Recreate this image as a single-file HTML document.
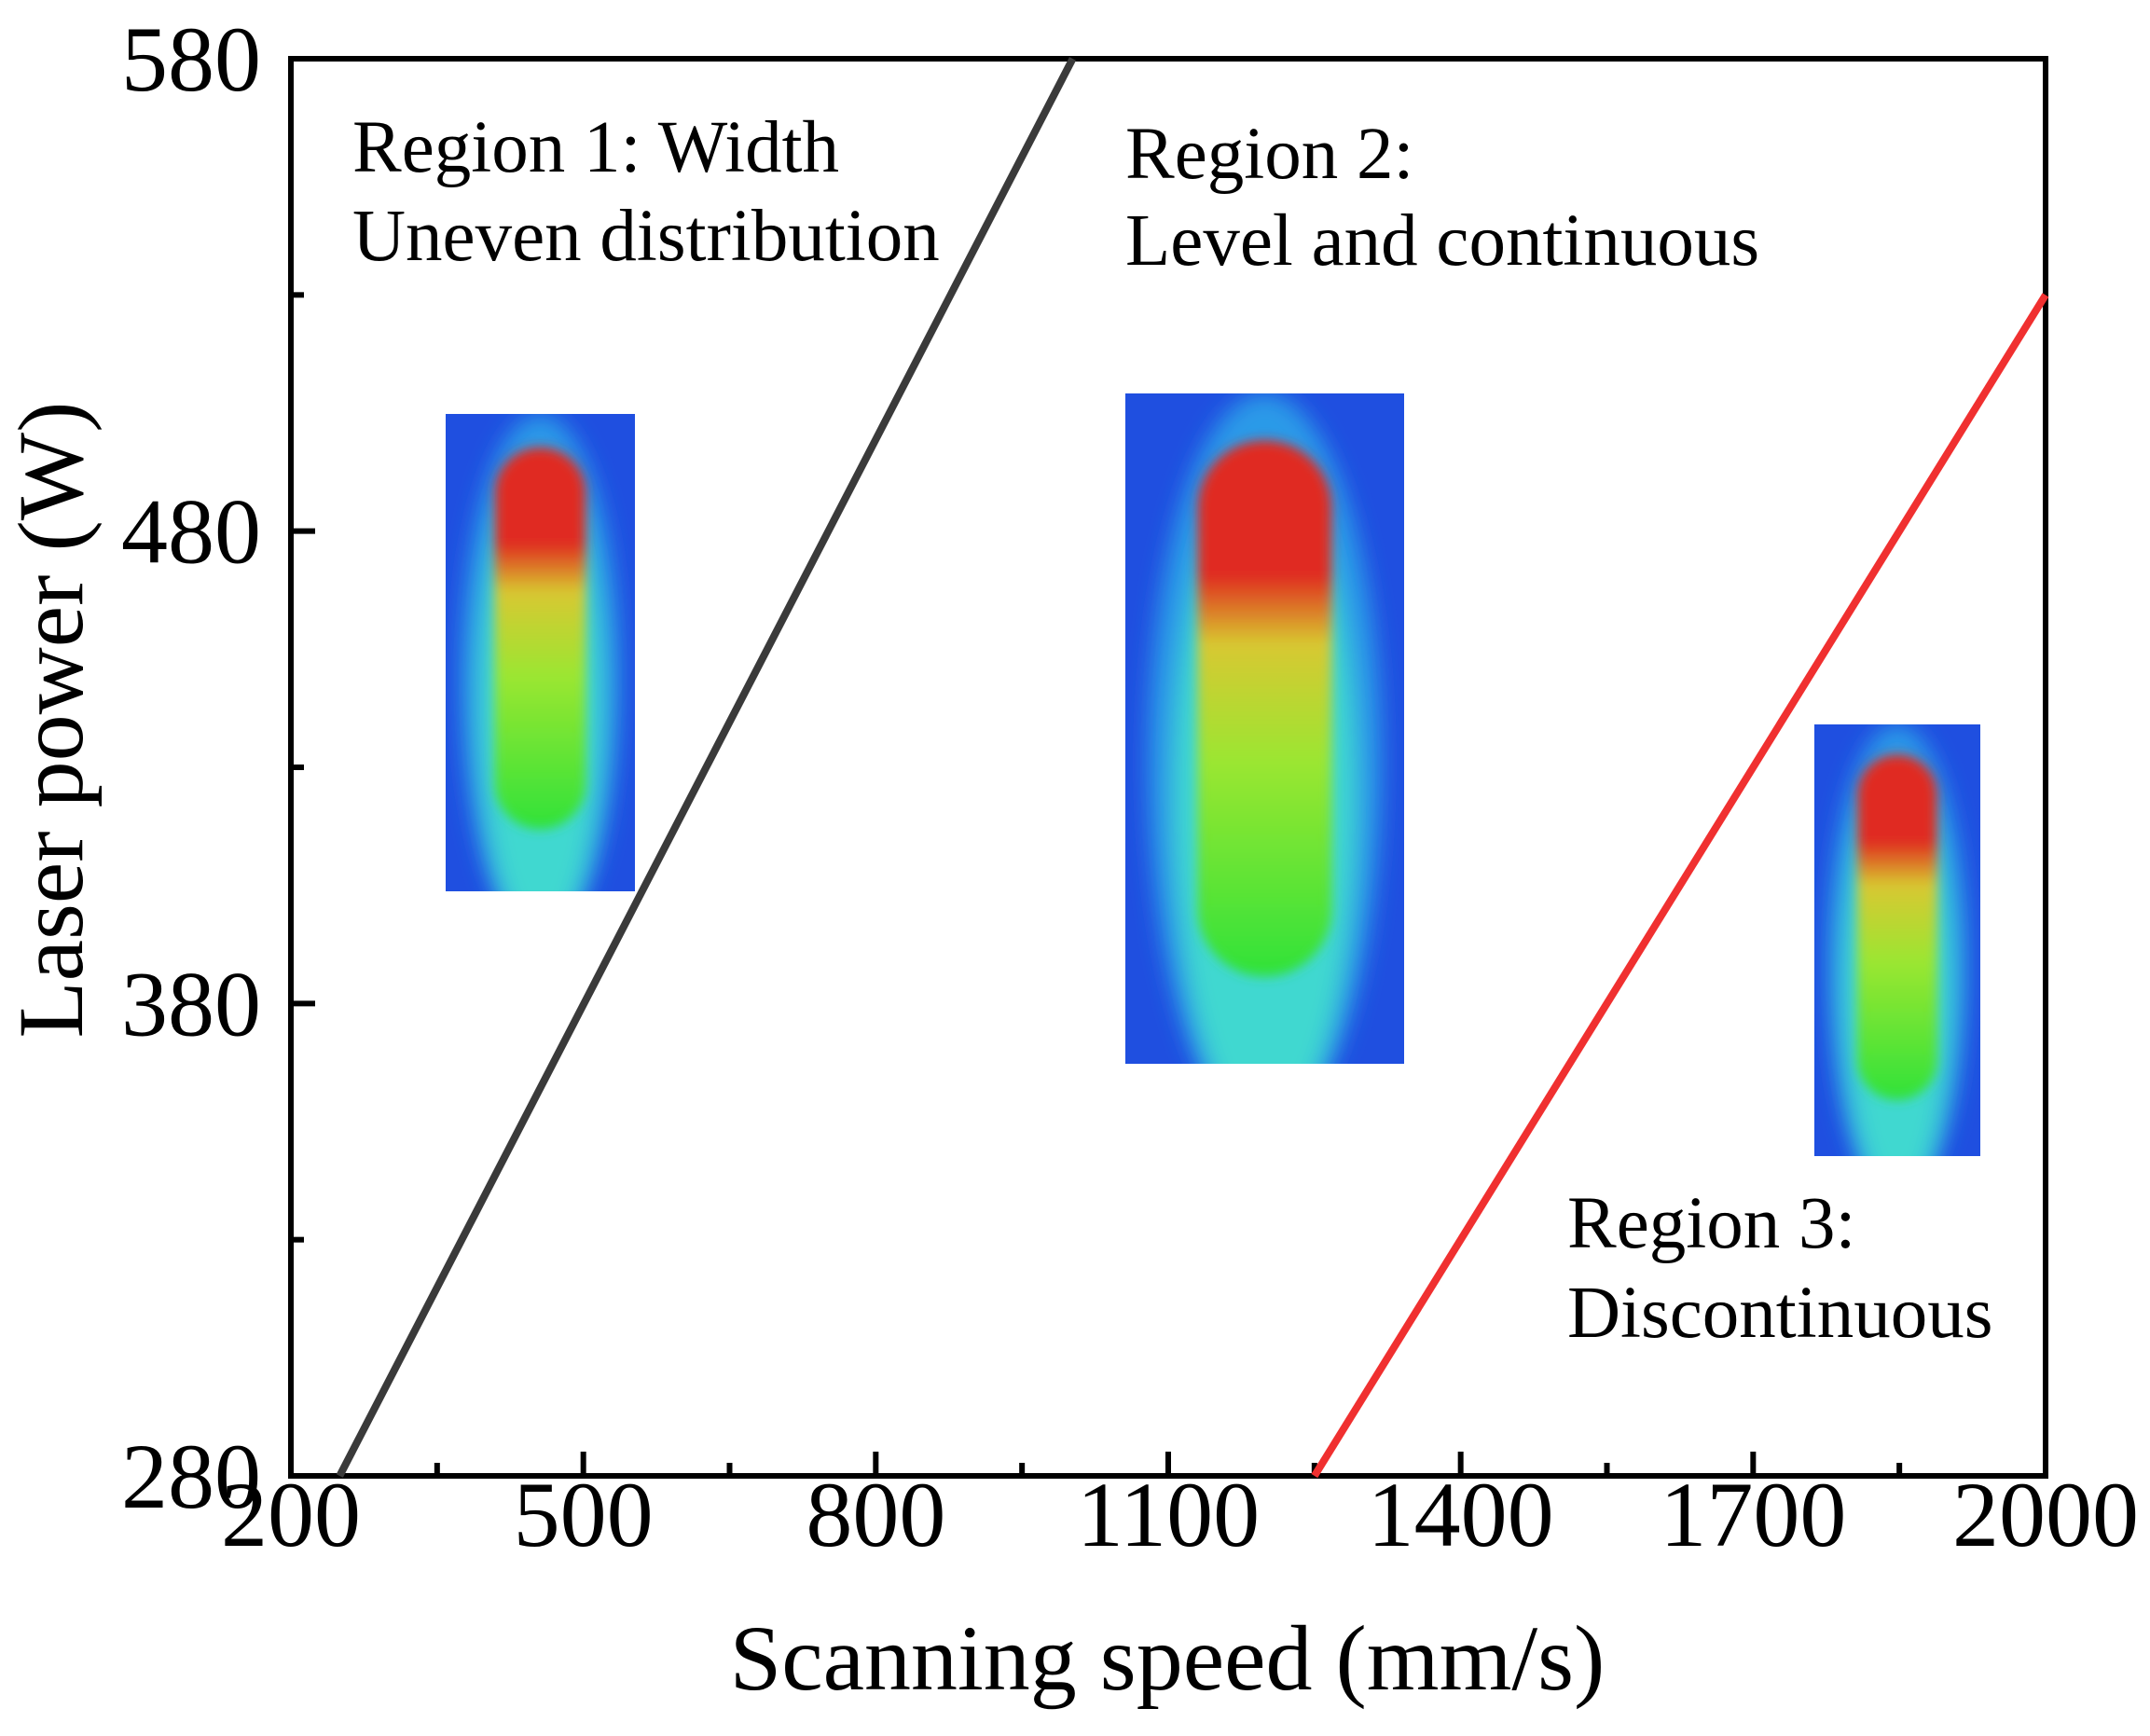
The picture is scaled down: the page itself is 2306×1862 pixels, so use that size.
<!DOCTYPE html>
<html><head><meta charset="utf-8"><style>
html,body{margin:0;padding:0;background:#fff;}
svg text{font-family:"Liberation Serif",serif;fill:#000;}
</style></head><body>
<svg id="chart" width="2306" height="1857" viewBox="0 0 2306 1857" xmlns="http://www.w3.org/2000/svg">
<defs>
<filter id="blur" x="-20%" y="-20%" width="140%" height="140%"><feGaussianBlur stdDeviation="12"/></filter>
<filter id="blur2" x="-20%" y="-20%" width="140%" height="140%"><feGaussianBlur stdDeviation="6"/></filter>
<linearGradient id="core" x1="0" y1="0" x2="0" y2="1">
<stop offset="0" stop-color="#e02a20"/><stop offset="0.25" stop-color="#e02a20"/>
<stop offset="0.38" stop-color="#d8c830"/><stop offset="0.6" stop-color="#9be630"/>
<stop offset="1" stop-color="#2fe23a"/></linearGradient>
<clipPath id="c1"><rect x="478" y="444" width="203" height="512"/></clipPath>
<clipPath id="c2"><rect x="1207" y="422" width="299" height="719"/></clipPath>
<clipPath id="c3"><rect x="1946" y="777" width="178" height="463"/></clipPath>
</defs>
<g id="images"></g>
<g id="axes"></g>
<g id="lines"></g>
<g id="labels">
<text x="378" y="184" font-size="79">Region 1: Width</text>
<text x="378" y="279" font-size="79">Uneven distribution</text>
<text x="1207" y="191" font-size="79">Region 2:</text>
<text x="1207" y="284" font-size="79">Level and continuous</text>
<text x="1681" y="1338" font-size="79">Region 3:</text>
<text x="1681" y="1434" font-size="79">Discontinuous</text>
<text x="1252" y="1812" font-size="100" text-anchor="middle">Scanning speed (mm/s)</text>
<text x="0" y="0" font-size="100" text-anchor="middle" transform="translate(88,772) rotate(-90)">Laser power (W)</text>
</g>
</svg>
<script>
const xTicks = [200, 500, 800, 1100, 1400, 1700, 2000];
const xMinor = [350, 650, 950, 1250, 1550, 1850];
const yTicks = [280, 380, 480, 580];
const yMinor = [330, 430, 530];
const boundaryLow = {speed: [250, 1002], power: [280, 580]};
const boundaryHigh = {speed: [1250, 2000], power: [280, 530]};

const L = 312, R = 2194, T = 63, B = 1583;
const sx = v => L + (v - 200) / 1800 * (R - L);
const sy = v => B - (v - 280) / 300 * (B - T);
const NS = 'http://www.w3.org/2000/svg';
function mk(tag, attrs, parent) { const e = document.createElementNS(NS, tag); for (const k in attrs) e.setAttribute(k, attrs[k]); parent.appendChild(e); return e; }

const imgs = document.getElementById('images');
const boxes = [[478,444,203,512,'c1'],[1207,422,299,719,'c2'],[1946,777,178,463,'c3']];
boxes.forEach((b, i) => {
  const [x,y,w,h,c] = b;
  const g = mk('g', {'clip-path': 'url(#' + c + ')'}, imgs);
  
  
  mk('rect', {x, y, width: w, height: h, fill: '#1f4fe0'}, g);
  mk('ellipse', {cx: x + w/2, cy: y + h*0.55, rx: w*0.42, ry: h*0.55, fill: '#2a9ae8', filter: 'url(#blur)'}, g);
  mk('ellipse', {cx: x + w/2, cy: y + h*0.6, rx: w*0.33, ry: h*0.5, fill: '#3fd8d0', filter: 'url(#blur)'}, g);
  mk('rect', {x: x + w*0.26, y: y + h*0.07, width: w*0.48, height: h*0.8, rx: w*0.24, fill: 'url(#core)', filter: 'url(#blur2)'}, g);
});

const axes = document.getElementById('axes');
const frame = mk('rect', {x: L, y: T, width: R - L, height: B - T, fill: 'none', stroke: '#000', 'stroke-width': 6}, axes);


xTicks.forEach(v => {
  const t = mk('line', {x1: sx(v), x2: sx(v), y1: B, y2: B - 26, stroke: '#000', 'stroke-width': 6}, axes);
  
  
  const lb = mk('text', {x: sx(v), y: 1658, 'font-size': 100, 'text-anchor': 'middle'}, axes);
  lb.textContent = v;
  
  
});
xMinor.forEach(v => {
  const t = mk('line', {x1: sx(v), x2: sx(v), y1: B, y2: B - 14, stroke: '#000', 'stroke-width': 6}, axes);
  
  
});
yTicks.forEach(v => {
  const t = mk('line', {x1: L, x2: L + 26, y1: sy(v), y2: sy(v), stroke: '#000', 'stroke-width': 6}, axes);
  
  
  const lb = mk('text', {x: 280, y: sy(v) + 34, 'font-size': 100, 'text-anchor': 'end'}, axes);
  lb.textContent = v;
  
  
});
yMinor.forEach(v => {
  const t = mk('line', {x1: L, x2: L + 14, y1: sy(v), y2: sy(v), stroke: '#000', 'stroke-width': 6}, axes);
  
  
});

const lines = document.getElementById('lines');
const l1 = mk('line', {x1: sx(boundaryLow.speed[0]), y1: sy(boundaryLow.power[0]), x2: sx(boundaryLow.speed[1]), y2: sy(boundaryLow.power[1]), stroke: '#3a3a3a', 'stroke-width': 8}, lines);


const l2 = mk('line', {x1: sx(boundaryHigh.speed[0]), y1: sy(boundaryHigh.power[0]), x2: sx(boundaryHigh.speed[1]), y2: sy(boundaryHigh.power[1]), stroke: '#f03030', 'stroke-width': 8}, lines);


</script>
</body></html>
